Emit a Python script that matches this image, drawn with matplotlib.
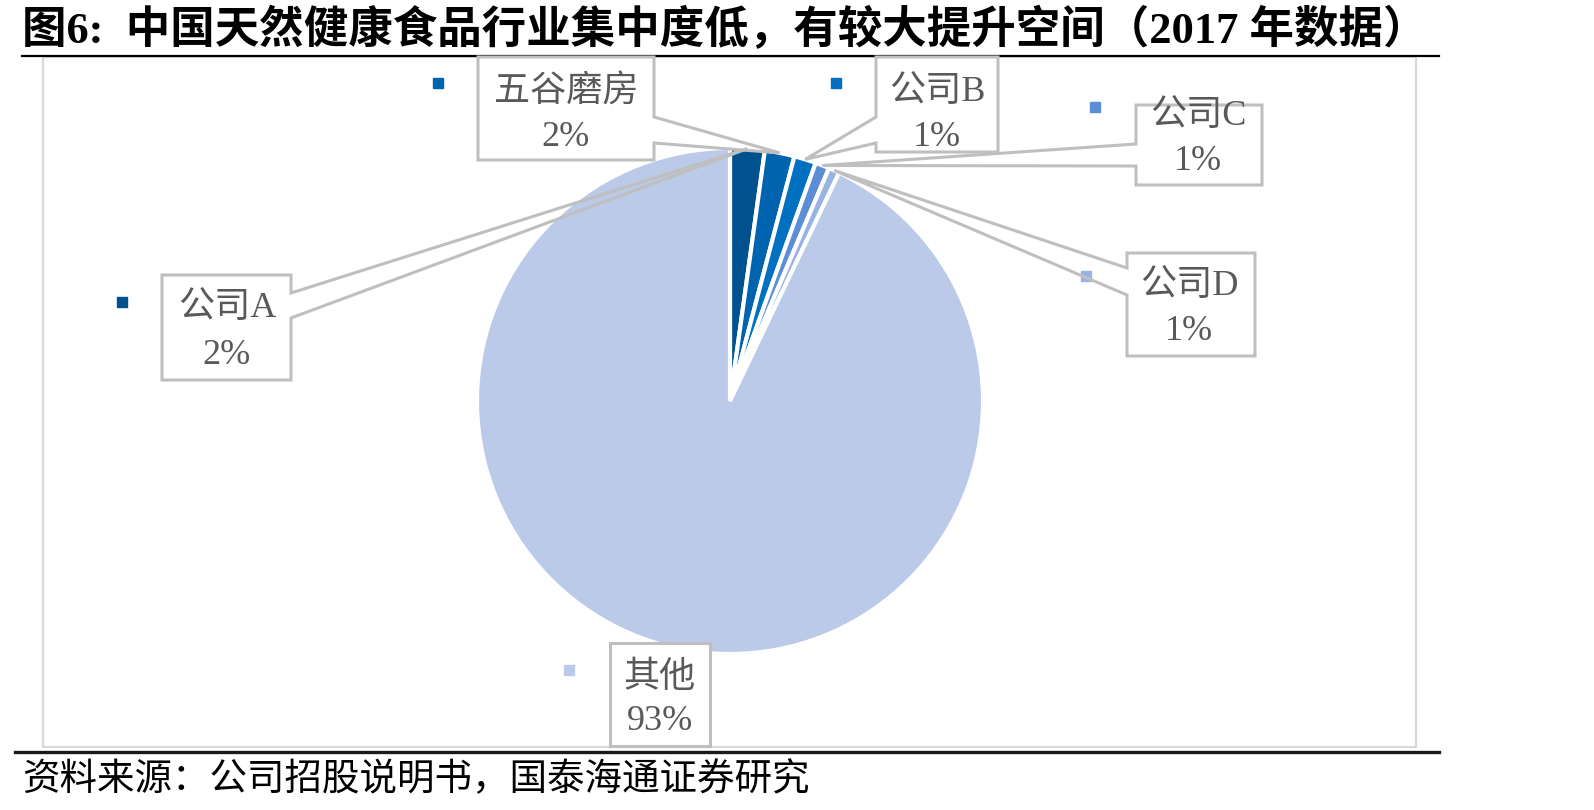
import matplotlib.pyplot as plt
from matplotlib.patches import Polygon, Rectangle
import numpy as np

# 数据（2017年市场份额，%）
names = ['公司A', '五谷磨房', '公司B', '公司C', '公司D', '其他']
shares = [2.2, 1.9, 1.4, 0.9, 0.7, 92.9]
colors = ['#00528F', '#0063AF', '#0070C0', '#5B8ED6', '#98B4E2', '#BBCAE8']

title = '图6:  中国天然健康食品行业集中度低，有较大提升空间（2017 年数据）'
source = '资料来源：公司招股说明书，国泰海通证券研究'

W, H = 1594, 810
fam = ['Liberation Serif', 'Noto Sans CJK SC']

fig = plt.figure(figsize=(W / 100, H / 100), dpi=100)
ax = fig.add_axes([0, 0, 1, 1])

# 饼图（像素坐标，y轴向下）
cx, cy, r = 730, 401, 253
wedges, _ = ax.pie(shares, colors=colors, startangle=-90, counterclock=True,
                   center=(cx, cy), radius=r,
                   wedgeprops=dict(edgecolor='white', linewidth=3))
ax.set_xlim(0, W)
ax.set_ylim(H, 0)
ax.set_aspect('auto')
ax.axis('off')

# 标题、线、框
ax.text(22, 30, title, fontsize=32, fontweight='bold', va='center', ha='left', family=fam)
ax.plot([22, 1439], [56, 56], color='black', lw=1.6)
ax.add_patch(Rectangle((43, 57), 1416 - 43, 747 - 57, fill=False, ec='#D9D9D9', lw=1.6))
ax.plot([15, 1439], [752, 752], color='#1a1a1a', lw=2.4)
ax.text(22, 780, source, fontsize=27, va='center', ha='left', family=fam)

# 标签框：(x0, y0, x1, y1, 楔形所在边, 楔形底边y0, y1)
boxes = [
    (162, 275, 291, 380, 'right', 293, 318),
    (478, 57, 654, 160, 'right', 117, 143),
    (876, 57, 998, 152, 'left', 117, 143),
    (1136, 105, 1262, 185, 'left', 144, 166),
    (1127, 253, 1255, 356, 'left', 268, 295),
    (610, 643, 710, 746, None, 0, 0),
]
# 文字位置 (x, 名称y, 百分比y) 与图例方块位置
text_pos = [(227, 308, 356), (566, 92, 138), (937, 92, 138),
            (1198, 116, 162), (1189, 286, 332), (660, 678, 722)]
markers = [(122, 302), (438, 83), (836, 83), (1095, 107), (1086, 276), (569, 670)]

for w, name, v, c, b, t, m in zip(wedges, names, shares, colors, boxes, text_pos, markers):
    x0, y0, x1, y1, side, b0, b1 = b
    ax.add_patch(Rectangle((m[0] - 5, m[1] - 5), 10, 10, color=c, zorder=2))
    ax.add_patch(Rectangle((x0, y0), x1 - x0, y1 - y0, fc='white', ec='none', zorder=3))
    th = np.deg2rad((w.theta1 + w.theta2) / 2)
    tip = (cx + r * np.cos(th), cy + r * np.sin(th))
    if side == 'right':
        pts = [(x0, y0), (x1, y0), (x1, b0), tip, (x1, b1), (x1, y1), (x0, y1)]
    elif side == 'left':
        pts = [(x0, y0), (x1, y0), (x1, y1), (x0, y1), (x0, b1), tip, (x0, b0)]
    else:
        pts = [(x0, y0), (x1, y0), (x1, y1), (x0, y1)]
    ax.add_patch(Polygon(pts, closed=True, fill=False, ec='#BFBFBF', lw=2.2, zorder=4))
    ax.text(t[0], t[1], name, fontsize=26, color='#595959', ha='center', va='center',
            family=fam, zorder=5)
    ax.text(t[0], t[2], f'{v:.0f}%', fontsize=26, color='#595959', ha='center', va='center',
            family=fam, zorder=5)

fig.savefig('out.png', dpi=100)
